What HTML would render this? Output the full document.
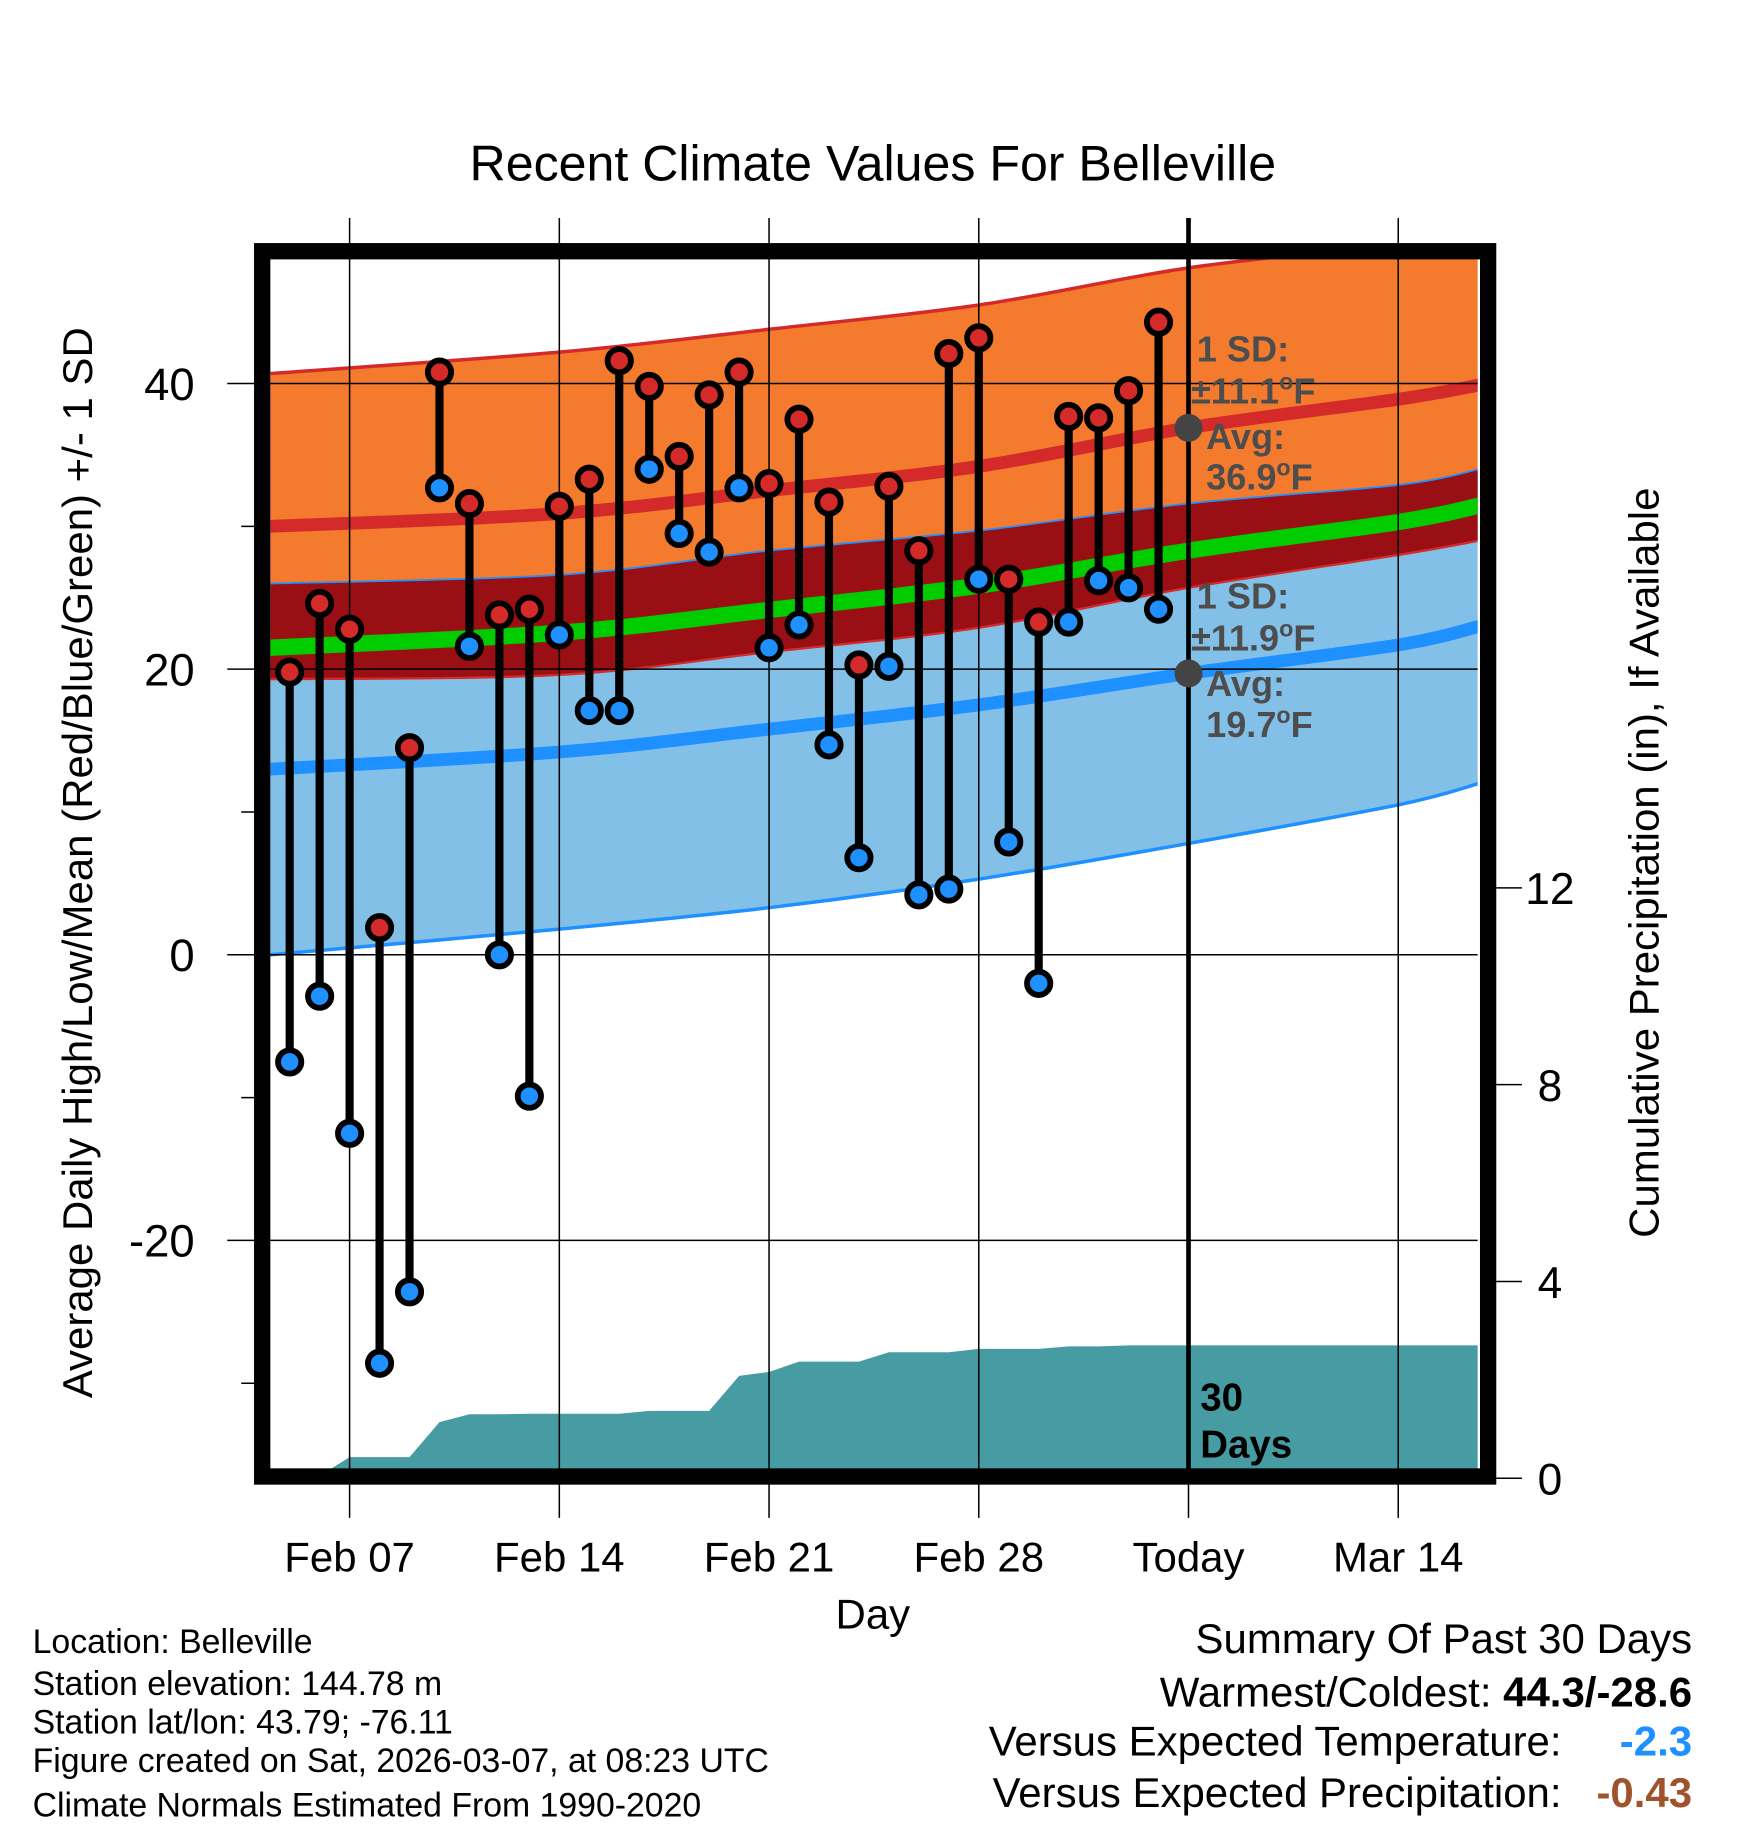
<!DOCTYPE html>
<html><head><meta charset="utf-8"><style>
html,body{margin:0;padding:0;background:#fff;}
svg{display:block;font-family:"Liberation Sans",Arial,sans-serif;}
</style></head><body>
<svg id="chart" width="1748" height="1828" viewBox="0 0 1500 1568" preserveAspectRatio="none" xmlns="http://www.w3.org/2000/svg">
<text x="749" y="155" font-size="43" text-anchor="middle">Recent Climate Values For Belleville</text>
<g id="plot"></g>
<text x="749" y="1397" font-size="36" text-anchor="middle">Day</text>
<text transform="translate(79,740) rotate(-90)" font-size="36" text-anchor="middle">Average Daily High/Low/Mean (Red/Blue/Green) +/- 1 SD</text>
<text transform="translate(1423,740) rotate(-90)" font-size="36" text-anchor="middle">Cumulative Precipitation (in), If Available</text>
<g font-size="29">
<text x="28" y="1418">Location: Belleville</text>
<text x="28" y="1454">Station elevation: 144.78 m</text>
<text x="28" y="1487">Station lat/lon: 43.79; -76.11</text>
<text x="28" y="1520">Figure created on Sat, 2026-03-07, at 08:23 UTC</text>
<text x="28" y="1558">Climate Normals Estimated From 1990-2020</text>
</g>
<g font-size="36" text-anchor="end">
<text x="1452" y="1418">Summary Of Past 30 Days</text>
<text x="1452" y="1464">Warmest/Coldest: <tspan font-weight="bold">44.3/-28.6</tspan></text>
<text x="1340" y="1506">Versus Expected Temperature:</text>
<text x="1452" y="1506" font-weight="bold" fill="#1E90FF">-2.3</text>
<text x="1340" y="1550">Versus Expected Precipitation:</text>
<text x="1452" y="1550" font-weight="bold" fill="#A0522D">-0.43</text>
</g>
</svg>
<script>
// day index: 0 = Feb 07
const obsDays = [-2,-1,0,1,2,3,4,5,6,7,8,9,10,11,12,13,14,15,16,17,18,19,20,21,22,23,24,25,26,27];
const highs = [19.8,24.6,22.8,1.9,14.5,40.8,31.6,23.8,24.2,31.4,33.3,41.6,39.8,34.9,39.2,40.8,33.0,37.5,31.7,20.3,32.8,28.3,42.1,43.2,26.3,23.3,37.7,37.6,39.5,44.3];
const lows = [-7.5,-2.9,-12.5,-28.6,-23.6,32.7,21.6,0,-9.9,22.4,17.1,17.1,34.0,29.5,28.2,32.7,21.5,23.1,14.7,6.8,20.2,4.2,4.6,26.3,7.9,-2.0,23.3,26.2,25.7,24.2];
const precip = [0,0.05,0.43,0.43,0.43,1.14,1.3,1.3,1.31,1.31,1.31,1.31,1.37,1.37,1.37,2.08,2.16,2.37,2.37,2.37,2.56,2.56,2.56,2.63,2.63,2.63,2.68,2.68,2.7,2.7];
const normDays = [-2.65,7,14,21,28,35,37.7];
const highMean = [30.0,30.9,32.5,34.2,36.9,38.9,39.9];
const highSd = [10.7,11.3,11.3,11.3,11.2,10.9,10.9];
const lowMean = [13.0,14.2,15.8,17.5,19.7,21.7,23.0];
const lowSd = [13.0,12.4,12.5,12.2,11.9,11.2,11.0];
const xTickDays = [0,7,14,21,28,35];
const xTickLabels = ['Feb 07','Feb 14','Feb 21','Feb 28','Today','Mar 14'];
const yTicks = [40,20,0,-20];
const yMinor = [30,10,-10,-30];
const y2Ticks = [0,4,8,12];

const X0=232,X1=1268,Y0=222,Y1=1260;
const xs = d => 300 + d*25.71;
const ys = v => 819 - v*12.25;
const y2s = p => 1268 - p*42.2;
const NS='http://www.w3.org/2000/svg';
const g=document.getElementById('plot');
function mk(tag,attrs,parent){const e=document.createElementNS(NS,tag);for(const k in attrs)e.setAttribute(k,attrs[k]);(parent||g).appendChild(e);return e;}

mk('clipPath',{id:'clip'});
mk('rect',{x:X0,y:Y0,width:X1-X0,height:Y1-Y0},g.lastChild);
const pg=mk('g',{'clip-path':'url(#clip)'});

function segs(pts){
  let s='';
  for(let i=0;i<pts.length-1;i++){
    const p0=pts[Math.max(0,i-1)],p1=pts[i],p2=pts[i+1],p3=pts[Math.min(pts.length-1,i+2)];
    const c1=[p1[0]+(p2[0]-p0[0])/6,p1[1]+(p2[1]-p0[1])/6];
    const c2=[p2[0]-(p3[0]-p1[0])/6,p2[1]-(p3[1]-p1[1])/6];
    s+=' C'+c1+' '+c2+' '+p2;
  }
  return s;
}
function curve(vals){
  const pts=normDays.map((d,i)=>[xs(d),ys(vals[i])]);
  return 'M'+pts[0][0]+','+pts[0][1]+segs(pts);
}
function revCurve(vals){
  const pts=normDays.map((d,i)=>[xs(d),ys(vals[i])]).reverse();
  return ' L'+pts[0][0]+','+pts[0][1]+segs(pts)+' Z';
}
const hiTop=highMean.map((m,i)=>m+highSd[i]), hiBot=highMean.map((m,i)=>m-highSd[i]);
const loTop=lowMean.map((m,i)=>m+lowSd[i]), loBot=lowMean.map((m,i)=>m-lowSd[i]);
const midMean=highMean.map((m,i)=>(m+lowMean[i])/2);

let e;
e=mk('path',{d:curve(hiTop)+revCurve(hiBot),fill:'#F47A2E'},pg);


e=mk('path',{d:curve(loTop)+revCurve(loBot),fill:'#82C0E8'},pg);


e=mk('path',{d:curve(loTop)+revCurve(hiBot),fill:'#990F14'},pg);


e=mk('path',{d:curve(midMean),fill:'none',stroke:'#00CC00','stroke-width':14},pg);


e=mk('path',{d:curve(hiTop),fill:'none',stroke:'#D42A2A','stroke-width':3},pg);


e=mk('path',{d:curve(hiBot),fill:'none',stroke:'#D42A2A','stroke-width':2},pg);


e=mk('path',{d:curve(loTop),fill:'none',stroke:'#1E90FF','stroke-width':1.5},pg);


e=mk('path',{d:curve(loBot),fill:'none',stroke:'#1E90FF','stroke-width':3},pg);


e=mk('path',{d:curve(highMean),fill:'none',stroke:'#D42A2A','stroke-width':11},pg);


e=mk('path',{d:curve(lowMean),fill:'none',stroke:'#1E90FF','stroke-width':11},pg);



yTicks.forEach(v=>{
  e=mk('line',{x1:195,x2:X1,y1:ys(v),y2:ys(v),stroke:'#000','stroke-width':1.3});
  
  
  e=mk('text',{x:167,y:ys(v)+14,'font-size':39,'text-anchor':'end'});
  e.textContent=v;
  
  
});
yMinor.forEach(v=>{
  e=mk('line',{x1:207,x2:220,y1:ys(v),y2:ys(v),stroke:'#000','stroke-width':1.3});
  
  
});
y2Ticks.forEach(p=>{
  e=mk('line',{x1:1284,x2:1306,y1:y2s(p),y2:y2s(p),stroke:'#000','stroke-width':1.3});
  
  
  e=mk('text',{x:1330,y:y2s(p)+14,'font-size':38,'text-anchor':'middle'});
  e.textContent=p;
  
  
});
xTickDays.forEach((d,i)=>{
  e=mk('line',{x1:xs(d),x2:xs(d),y1:187,y2:1302,stroke:'#000','stroke-width':1.3});
  
  
  e=mk('text',{x:xs(d),y:1348,'font-size':36,'text-anchor':'middle'});
  e.textContent=xTickLabels[i];
  
  
});

let pd='M'+xs(obsDays[0])+','+Y1;
obsDays.forEach((d,i)=>{pd+=' L'+xs(d)+','+y2s(precip[i]);});
pd+=' L'+(X1+5)+','+y2s(precip[precip.length-1])+' L'+(X1+5)+','+Y1+' Z';
e=mk('path',{d:pd,fill:'#479BA3'},pg);



e=mk('line',{x1:xs(28),x2:xs(28),y1:187,y2:Y1,stroke:'#000','stroke-width':4});



const ann=[['1 SD:',1027,310],['±11.1',1022,346],['Avg:',1035,385],['36.9',1035,420],['1 SD:',1027,522],['±11.9',1022,558],['Avg:',1035,597],['19.7',1035,632]];
ann.forEach(a=>{
  e=mk('text',{x:a[1],y:a[2],'font-size':31,'font-weight':'bold',fill:'#4d4d4d'});
  e.textContent=a[0];
  if(a[0].indexOf('.')>0){
    const t1=mk('tspan',{dy:-12,'font-size':20},e);t1.textContent='o';
    const t2=mk('tspan',{dy:12},e);t2.textContent='F';
  }
  
  
});
e=mk('circle',{cx:xs(28),cy:ys(highMean[4]),r:12,fill:'#444'});


e=mk('circle',{cx:xs(28),cy:ys(lowMean[4]),r:12,fill:'#444'});


e=mk('text',{x:1030,y:1210,'font-size':33,'font-weight':'bold'});e.textContent='30';


e=mk('text',{x:1030,y:1250,'font-size':33,'font-weight':'bold'});e.textContent='Days';



obsDays.forEach((d,i)=>{
  const x=xs(d);
  e=mk('line',{x1:x,x2:x,y1:ys(highs[i]),y2:ys(lows[i]),stroke:'#000','stroke-width':7});
  
  
});
obsDays.forEach((d,i)=>{
  const x=xs(d);
  e=mk('circle',{cx:x,cy:ys(highs[i]),r:10,fill:'#D42A2A',stroke:'#000','stroke-width':5});
  
  
  e=mk('circle',{cx:x,cy:ys(lows[i]),r:10,fill:'#1E90FF',stroke:'#000','stroke-width':5});
  
  
});

e=mk('rect',{x:225,y:215.5,width:1052,height:1051,fill:'none',stroke:'#000','stroke-width':14});


</script>
</body></html>
